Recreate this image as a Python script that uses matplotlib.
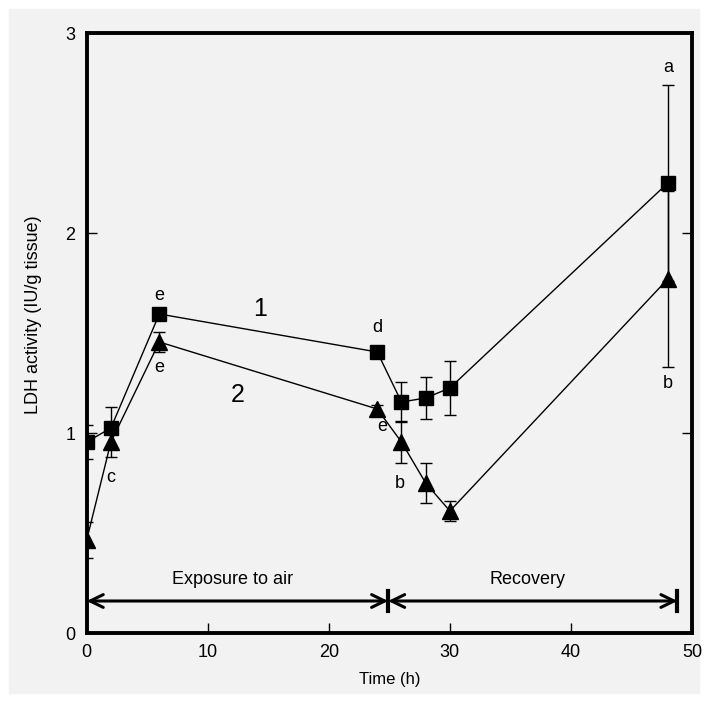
import numpy as np
from matplotlib import pyplot as plt
from matplotlib.patches import Rectangle

plt.rcParams['font.family'] = ['Liberation Sans', 'DejaVu Sans']

# time points (h)
time = [0, 2, 6, 24, 26, 28, 30, 48]

# series 1 (squares)
ldh_1 = [0.955, 1.025, 1.595, 1.405, 1.155, 1.175, 1.225, 2.25]
err_1 = [0.087, 0.105, 0.03, 0.03, 0.10, 0.107, 0.137, 0.49]

# series 2 (triangles)
ldh_2 = [0.465, 0.955, 1.455, 1.12, 0.955, 0.75, 0.61, 1.77]
err_2 = [0.09, 0.077, 0.05, 0.02, 0.105, 0.10, 0.05, 0.44]

# significance letters (x, y, text)
letters = [(6, 1.685, 'e'), (6, 1.325, 'e'), (2, 0.775, 'c'),
           (24, 1.525, 'd'), (24.4, 1.035, 'e'), (25.9, 0.745, 'b'),
           (48, 2.825, 'a'), (48, 1.25, 'b')]
series_names = [(14.3, 1.62, '1'), (12.5, 1.19, '2')]

phase_edges = [0, 24.9, 48.8]
phase_names = ['Exposure to air', 'Recovery']

bg = '#f2f2f2'
fig = plt.figure(figsize=(7.08, 7.02), dpi=100)
fig.patches.append(Rectangle((9/708, 9/702), 1 - 18/708, 1 - 18/702,
                             transform=fig.transFigure, color=bg, zorder=-10))
ax = fig.add_axes([86.7/708, 1 - 633/702, (692 - 86.7)/708, 600/702])
ax.set_facecolor(bg)

ax.errorbar(time, ldh_1, yerr=err_1, color='k', lw=1, marker='s', ms=10,
            capsize=4.5, elinewidth=1, capthick=1, zorder=3)
ax.errorbar(time, ldh_2, yerr=err_2, color='k', lw=1, marker='^', ms=11,
            capsize=4.5, elinewidth=1, capthick=1, zorder=3)

for x, y, s in letters:
    ax.text(x, y, s, ha='center', va='center', fontsize=13)
for x, y, s in series_names:
    ax.text(x, y, s, ha='center', va='center', fontsize=18)

# phase arrows
ya = 0.16
for i in range(2):
    x0, x1 = phase_edges[i], phase_edges[i + 1]
    ax.annotate('', xy=(x0, ya), xytext=(x1, ya),
                arrowprops=dict(arrowstyle='<->,head_length=0.47,head_width=0.23',
                                lw=2.2, color='k', mutation_scale=20,
                                shrinkA=0, shrinkB=0))
    ax.text((x0 + x1) / 2 - 0.4, 0.265, phase_names[i], ha='center', va='center',
            fontsize=13)
for xb in phase_edges[1:]:
    ax.plot([xb, xb], [ya - 0.052, ya + 0.052], color='k', lw=3)

ax.set_xlim(0, 50)
ax.set_ylim(0, 3)
ax.set_xticks([0, 10, 20, 30, 40, 50])
ax.set_yticks([0, 1, 2, 3])
ax.tick_params(direction='in', length=7, width=1, labelsize=13, pad=8,
               right=True)
for sp in ax.spines.values():
    sp.set_linewidth(2.8)

ax.set_xlabel('Time (h)', fontsize=12, labelpad=8)
ax.set_ylabel('LDH activity (IU/g tissue)', fontsize=13)
ax.yaxis.set_label_coords(-0.074, 0.53)

fig.savefig('out.png', dpi=100, facecolor='white')
